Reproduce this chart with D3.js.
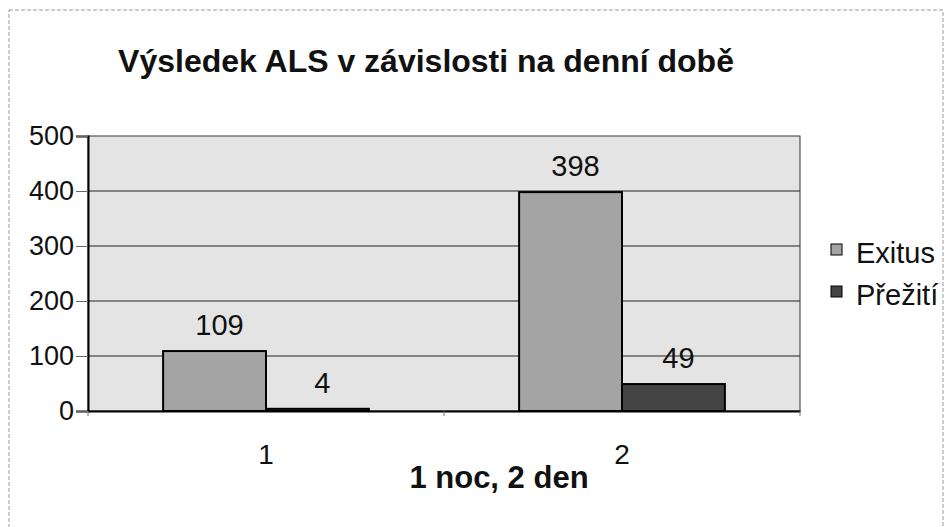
<!DOCTYPE html>
<html>
<head>
<meta charset="utf-8">
<script src="https://cdn.jsdelivr.net/npm/d3@7"></script>
<style>
  body { margin: 0; background: #fff; }
  text { font-family: Arial, "Liberation Sans", sans-serif; }
</style>
</head>
<body>
<div id="chart"></div>
<script>
const categories = ['1', '2'];
const seriesNames = ['Exitus', 'Přežití'];
const exitusValues = [109, 398];
const prezitiValues = [4, 49];
const yTicks = [0, 100, 200, 300, 400, 500];

const width = 946;
const height = 527;
const plot = {left: 88, right: 800, top: 136, bottom: 411};
const bgColor = '#e4e4e4';
const seriesColors = ['#a4a4a4', '#444444'];
const fontFamily = 'Arial, "Liberation Sans", sans-serif';

const rows = categories.map((c, i) => ({cat: c, values: [exitusValues[i], prezitiValues[i]]}));

const svg = d3.select('#chart')
  .append('svg')
  .attr('width', width)
  .attr('height', height);

// border of the scanned page
svg.append('rect')
  .attr('x', 9).attr('y', 10)
  .attr('width', 934).attr('height', 540)
  .attr('fill', 'none')
  .attr('stroke', '#9a9a9a')
  .attr('stroke-dasharray', '4 2');

const x0 = d3.scaleBand()
  .domain(categories)
  .range([plot.left, plot.right]);

const x1 = d3.scaleBand()
  .domain(seriesNames)
  .range([0, x0.bandwidth()])
  .paddingOuter(0.73);

const y = d3.scaleLinear()
  .domain([0, 500])
  .range([plot.bottom, plot.top]);

// plot area
svg.append('rect')
  .attr('x', plot.left).attr('y', plot.top)
  .attr('width', plot.right - plot.left)
  .attr('height', plot.bottom - plot.top)
  .attr('fill', bgColor)
  .attr('stroke', '#333')
  .attr('stroke-width', 1);

// gridlines
svg.append('g')
  .selectAll('line')
  .data(yTicks.filter(d => d > 0 && d < 500))
  .join('line')
  .attr('x1', plot.left).attr('x2', plot.right)
  .attr('y1', d => y(d)).attr('y2', d => y(d))
  .attr('stroke', '#222')
  .attr('stroke-width', 1);

// bars
const groups = svg.append('g')
  .selectAll('g')
  .data(rows)
  .join('g')
  .attr('transform', d => `translate(${x0(d.cat)},0)`);

groups.selectAll('rect')
  .data(d => d.values.map((v, i) => ({name: seriesNames[i], value: v, idx: i})))
  .join('rect')
  .attr('x', d => x1(d.name))
  .attr('y', d => y(d.value))
  .attr('width', x1.bandwidth())
  .attr('height', d => y(0) - y(d.value))
  .attr('fill', d => seriesColors[d.idx])
  .attr('stroke', '#000')
  .attr('stroke-width', 2);

groups.selectAll('text')
  .data(d => d.values.map((v, i) => ({name: seriesNames[i], value: v})))
  .join('text')
  .attr('x', d => x1(d.name) + x1.bandwidth() / 2 + 5)
  .attr('y', d => y(d.value) - 16)
  .attr('text-anchor', 'middle')
  .style('font-size', '29px')
  .style('fill', '#111')
  .text(d => d.value);

// y axis
const yAxis = d3.axisLeft(y)
  .tickValues(yTicks)
  .tickSize(12)
  .tickPadding(2);

const yG = svg.append('g')
  .attr('transform', `translate(${plot.left},0)`)
  .call(yAxis);
yG.select('.domain').attr('stroke', '#000').attr('stroke-width', 2);
yG.selectAll('.tick line').attr('stroke', '#666');
yG.selectAll('.tick text')
  .style('font-size', '27px')
  .style('font-family', fontFamily)
  .attr('fill', '#111');

// x axis
const xAxis = d3.axisBottom(x0)
  .tickSize(0)
  .tickPadding(33);

const xG = svg.append('g')
  .attr('transform', `translate(0,${plot.bottom})`)
  .call(xAxis);
xG.select('.domain').attr('stroke', '#000').attr('stroke-width', 2);
xG.selectAll('.tick text')
  .style('font-size', '28px')
  .style('font-family', fontFamily)
  .attr('fill', '#111');

// small ticks between categories
xG.selectAll('.sep')
  .data([plot.left, plot.left + x0.step(), plot.right])
  .join('line')
  .attr('class', 'sep')
  .attr('x1', d => d).attr('x2', d => d)
  .attr('y1', 0).attr('y2', 5)
  .attr('stroke', '#777');

// title
svg.append('text')
  .attr('x', 426)
  .attr('y', 72)
  .attr('text-anchor', 'middle')
  .style('font-size', '32px')
  .style('font-weight', 'bold')
  .style('fill', '#111')
  .text('Výsledek ALS v závislosti na denní době');

// x axis title
svg.append('text')
  .attr('x', 499)
  .attr('y', 488)
  .attr('text-anchor', 'middle')
  .style('font-size', '31px')
  .style('font-weight', 'bold')
  .style('fill', '#111')
  .text('1 noc, 2 den');

// legend
const legend = svg.append('g')
  .selectAll('g')
  .data(seriesNames)
  .join('g')
  .attr('transform', (d, i) => `translate(831,${263 + i * 42})`);

legend.append('rect')
  .attr('x', 0).attr('y', -19)
  .attr('width', 11).attr('height', 11)
  .attr('fill', (d, i) => seriesColors[i])
  .attr('stroke', '#000');

legend.append('text')
  .attr('x', 25)
  .attr('y', 0)
  .style('font-size', '29px')
  .style('fill', '#111')
  .text(d => d);
</script>
</body>
</html>
